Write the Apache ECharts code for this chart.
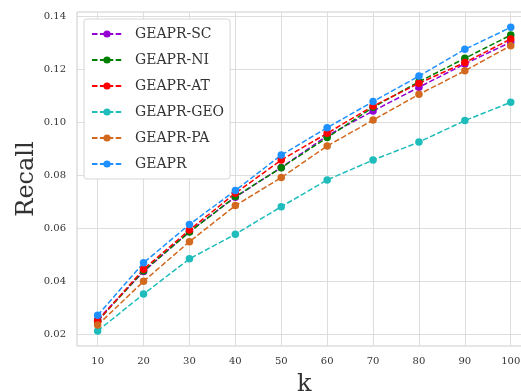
<!DOCTYPE html>
<html>
<head>
<meta charset="utf-8">
<script src="https://cdn.jsdelivr.net/npm/echarts@6/dist/echarts.min.js"></script>
<style>
  html, body { margin: 0; padding: 0; background: #ffffff; }
  #chart { width: 521px; height: 391px; }
</style>
</head>
<body>
<div id="chart"></div>
<script>
// Recall@k for GEAPR and its ablation variants
const kValues = [10, 20, 30, 40, 50, 60, 70, 80, 90, 100];

const recallSC  = [0.0255, 0.0437, 0.0588, 0.0718, 0.0830, 0.0950, 0.1043, 0.1133, 0.1221, 0.1303];
const recallNI  = [0.0250, 0.0440, 0.0586, 0.0720, 0.0829, 0.0943, 0.1057, 0.1154, 0.1242, 0.1330];
const recallAT  = [0.0250, 0.0446, 0.0594, 0.0733, 0.0858, 0.0959, 0.1062, 0.1148, 0.1226, 0.1315];
const recallGEO = [0.0213, 0.0352, 0.0485, 0.0578, 0.0682, 0.0783, 0.0858, 0.0926, 0.1007, 0.1076];
const recallPA  = [0.0235, 0.0400, 0.0550, 0.0686, 0.0792, 0.0911, 0.1009, 0.1106, 0.1195, 0.1290];
const recallAll = [0.0272, 0.0470, 0.0615, 0.0743, 0.0877, 0.0980, 0.1079, 0.1175, 0.1276, 0.1359];

const xTicks = [10, 20, 30, 40, 50, 60, 70, 80, 90, 100];
const yTicks = [0.02, 0.04, 0.06, 0.08, 0.10, 0.12, 0.14];

const seriesDefs = [
  { name: 'GEAPR-SC',  data: recallSC,  color: '#9400d3' },
  { name: 'GEAPR-NI',  data: recallNI,  color: '#008000' },
  { name: 'GEAPR-AT',  data: recallAT,  color: '#ff0000' },
  { name: 'GEAPR-GEO', data: recallGEO, color: '#1fbcbc' },
  { name: 'GEAPR-PA',  data: recallPA,  color: '#d2691e' },
  { name: 'GEAPR',     data: recallAll, color: '#1e90ff' }
];

const FONT = '"DejaVu Serif", "Liberation Serif", serif';
const TXT = '#333333';

const chart = echarts.init(document.getElementById('chart'), null, { renderer: 'canvas' });

chart.setOption({
  animation: false,
  backgroundColor: '#ffffff',
  textStyle: { fontFamily: FONT },
  grid: {
    // the plot frame extends past the right page edge
    left: 77, top: 12, width: 454.4, height: 334,
    outerBoundsMode: 'none',
    containLabel: false,
    show: true, borderColor: '#cccccc', borderWidth: 1
  },
  legend: {
    orient: 'vertical',
    left: 84, top: 19,
    padding: [8, 6, 8, 7],
    itemWidth: 30, itemHeight: 9, itemGap: 12,
    backgroundColor: '#ffffff',
    borderColor: '#d6d6d6', borderWidth: 1, borderRadius: 3,
    textStyle: { fontFamily: FONT, fontSize: 14, color: TXT, padding: [0, 0, 0, 8] },
    data: seriesDefs.map(s => s.name)
  },
  xAxis: {
    type: 'value',
    min: 5.5, max: 104.5,
    name: 'k', nameLocation: 'middle', nameGap: 27,
    nameMoveOverlap: false,
    nameTextStyle: { fontFamily: FONT, fontSize: 24, color: TXT },
    axisLine: { show: false },
    axisTick: { show: false, customValues: xTicks },
    axisLabel: { customValues: xTicks, fontFamily: FONT, fontSize: 10, color: TXT, margin: 10 },
    splitLine: { show: true, lineStyle: { color: '#dddddd', width: 1 } }
  },
  yAxis: {
    type: 'value',
    min: 0.0156, max: 0.1417,
    name: 'Recall', nameLocation: 'middle', nameGap: 38,
    nameMoveOverlap: false,
    nameTextStyle: { fontFamily: FONT, fontSize: 24, color: TXT },
    axisLine: { show: false },
    axisTick: { show: false, customValues: yTicks },
    axisLabel: { customValues: yTicks, fontFamily: FONT, fontSize: 10, color: TXT, margin: 11,
                 formatter: v => v.toFixed(2) },
    splitLine: { show: true, lineStyle: { color: '#dddddd', width: 1 } }
  },
  series: seriesDefs.map(s => ({
    name: s.name,
    type: 'line',
    data: kValues.map((k, i) => [k, s.data[i]]),
    symbol: 'circle',
    symbolSize: 7.5,
    color: s.color,
    itemStyle: { color: s.color },
    lineStyle: { color: s.color, width: 1.5, type: [5.5, 2.4] },
    emphasis: { disabled: true }
  }))
});
</script>
</body>
</html>
